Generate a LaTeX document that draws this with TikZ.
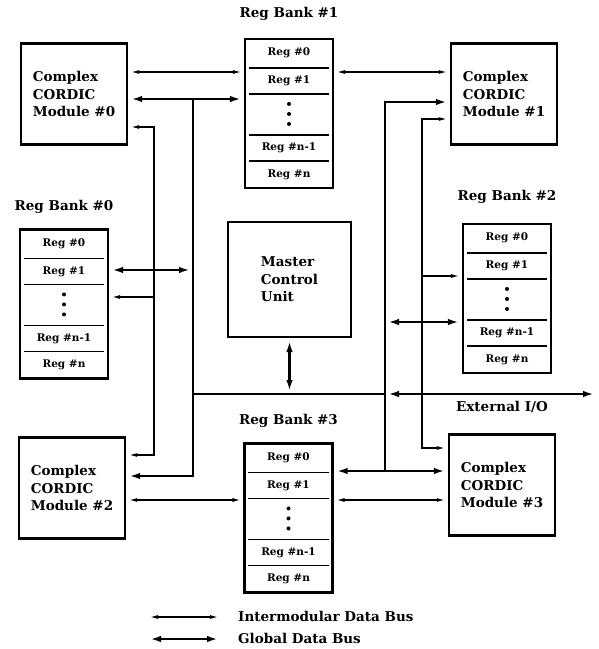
\documentclass[tikz,border=0pt]{standalone}
\usepackage{fontspec}
\setmainfont{DejaVu Serif}
\usetikzlibrary{arrows.meta,positioning}

\tikzset{
  module/.style={draw,line width=2.4pt,minimum width=106pt,minimum height=101pt,
    align=left,font=\bfseries\fontsize{13.5}{17.5}\selectfont},
  bankbox/.style={draw,line width=2.1pt,minimum width=88pt,minimum height=149pt},
  cellrule/.style={line width=1.4pt},
  celltext/.style={font=\bfseries\fontsize{10.5}{12}\selectfont,inner sep=0pt},
  banklabel/.style={font=\bfseries\fontsize{13.5}{15}\selectfont,inner sep=0pt},
  ibus/.style={line width=1.2pt,>={Latex[length=8pt,width=4pt]},shorten >=3pt},
  gbus/.style={line width=2.7pt,>={Latex[length=11pt,width=6.5pt]},shorten >=3pt},
  both/.style={<->,shorten <=3pt}
}

% one register bank: box, rules, cell texts, dots
\newcommand\regbank[2]{%
  \node[bankbox] (#1) at (#2) {};
  \foreach \d in {30,56,97,123}
    \draw[cellrule] ([xshift=5pt,yshift=-\d pt]#1.north west) -- ([xshift=-5pt,yshift=-\d pt]#1.north east);
  \foreach \t/\d [count=\k] in {Reg \#0/15,Reg \#1/43,Reg \#n-1/110,Reg \#n/136.5}
    \node[celltext] (#1-\k) at ([yshift=-\d pt]#1.north) {\t};
  \foreach \d in {66,76,86}
    \fill ([yshift=-\d pt]#1.north) circle (2pt);
}

\begin{document}
\begin{tikzpicture}[x=1pt,y=-1pt]
  \useasboundingbox (0,0) rectangle (599,649);

  % modules and control unit
  \node[module] (m0) at (74,94) {Complex\\CORDIC\\Module \#0};
  \node[module] (m1) at (504,94) {Complex\\CORDIC\\Module \#1};
  \node[module] (m2) at (72,488) {Complex\\CORDIC\\Module \#2};
  \node[module] (m3) at (502,485) {Complex\\CORDIC\\Module \#3};
  \node[module,line width=2.2pt,minimum width=123pt,minimum height=115pt] (mcu) at (289.5,279.5) {Master\\Control\\Unit};

  % register banks
  \regbank{rb0}{64,304}
  \regbank{rb1}{289,113.5}
  \regbank{rb2}{507,298.5}
  \regbank{rb3}{288.5,518}
  \node[banklabel,above=15pt of rb0] (rb0lbl) {Reg Bank \#0};
  \node[banklabel,above=17pt of rb1] (rb1lbl) {Reg Bank \#1};
  \node[banklabel,above=19pt of rb2] (rb2lbl) {Reg Bank \#2};
  \node[banklabel,above=15pt of rb3] (rb3lbl) {Reg Bank \#3};
  \node[banklabel] (extio) at (502,407) {External I/O};

  % bus corners and rows
  \coordinate (gl) at (193,99);
  \coordinate (glb) at (193,476);
  \coordinate (gr) at (385,102);
  \coordinate (grb) at (385,471);
  \coordinate (il) at (154,127);
  \coordinate (ilb) at (154,455);
  \coordinate (ir) at (422,119);
  \coordinate (irb) at (422,448);
  \coordinate (io) at (597,394);
  \coordinate (g0) at (0,270);
  \coordinate (g2) at (0,322);
  \coordinate (i0) at (0,297);
  \coordinate (i2) at (0,276);
  \coordinate (t1) at (0,72);
  \coordinate (t2) at (0,500);

  % global data bus
  \draw[gbus,both] (m0.east |- gl) -- (rb1.west |- gl);
  \draw[gbus,->] (gl) -- (glb) -- (m2.east |- glb);
  \draw[gbus,both] (rb0.east |- g0) -- (gl |- g0);
  \draw[gbus,shorten >=0pt] (gl |- io) -- (gr |- io);
  \draw[gbus,both] (gr |- io) -- (io);
  \draw[gbus,both] (mcu.south) -- (mcu.south |- io);
  \draw[gbus,->] (grb) -- (gr) -- (m1.west |- gr);
  \draw[gbus,both] (gr |- g2) -- (rb2.west |- g2);
  \draw[gbus,both] (rb3.east |- grb) -- (m3.west |- grb);

  % intermodular data bus
  \draw[ibus,both] (m0.east |- t1) -- (rb1.west |- t1);
  \draw[ibus,both] (rb1.east |- t1) -- (m1.west |- t1);
  \draw[ibus,both] (m2.east |- t2) -- (rb3.west |- t2);
  \draw[ibus,both] (rb3.east |- t2) -- (m3.west |- t2);
  \draw[ibus,->] (ilb) -- (il) -- (m0.east |- il);
  \draw[ibus,->] (il) -- (ilb) -- (m2.east |- ilb);
  \draw[ibus,->] (il |- i0) -- (rb0.east |- i0);
  \draw[ibus,->] (irb) -- (ir) -- (m1.west |- ir);
  \draw[ibus,->] (ir) -- (irb) -- (m3.west |- irb);
  \draw[ibus,->] (ir |- i2) -- (rb2.west |- i2);

  % legend
  \coordinate (li) at (150,617);
  \coordinate (lie) at (218,617);
  \coordinate (lg) at (150,639);
  \coordinate (lge) at (218,639);
  \draw[ibus,both,shorten >=0pt,shorten <=0pt] (li) -- (lie);
  \draw[gbus,both,shorten >=0pt,shorten <=0pt] (lg) -- (lge);
  \node[banklabel,anchor=west] (ilbl) at (238,616) {Intermodular Data Bus};
  \node[banklabel,anchor=west] (glbl) at (238,638) {Global Data Bus};
\end{tikzpicture}
\end{document}
